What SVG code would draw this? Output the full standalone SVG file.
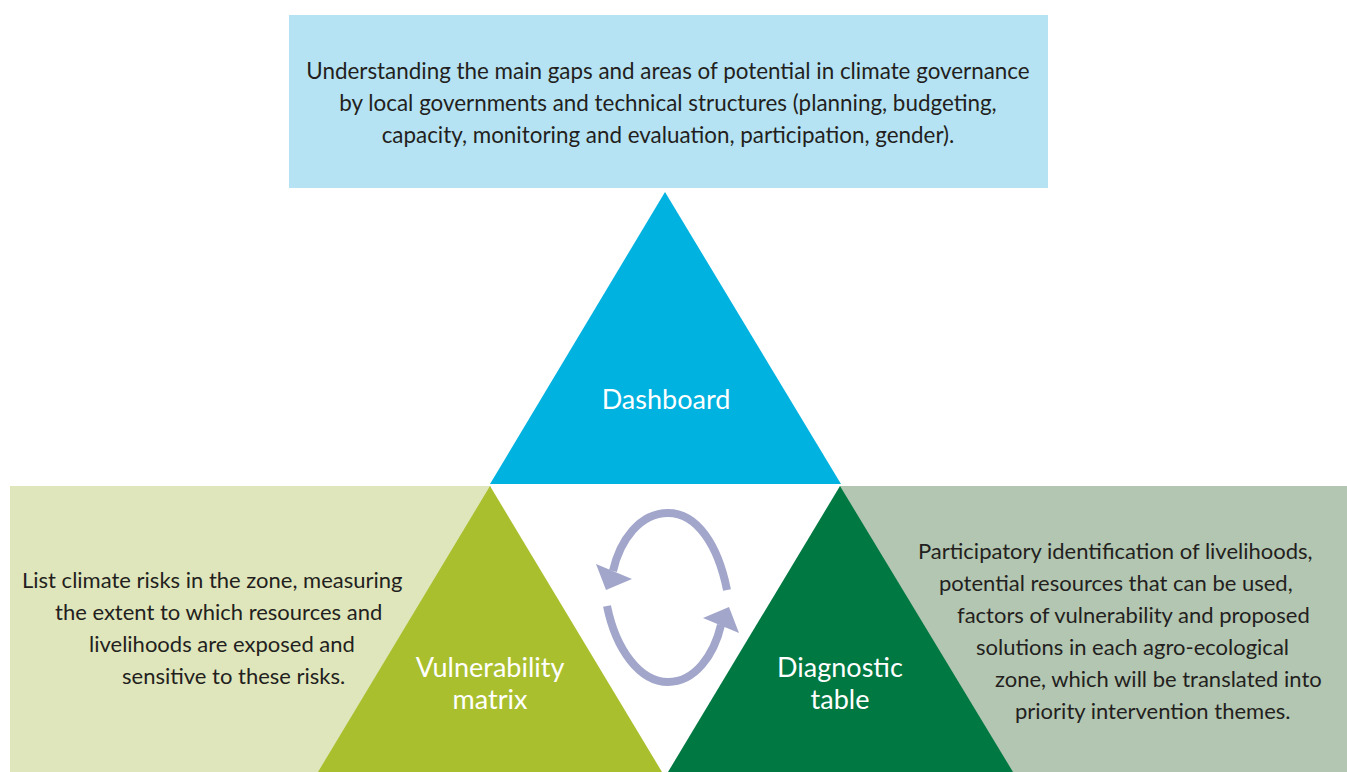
<svg xmlns="http://www.w3.org/2000/svg" width="1347" height="772" viewBox="0 0 1347 772">
<style>
.t{font-family:Lato,"Noto Sans",sans-serif;font-size:22px;fill:#231f20}
.w{font-family:Lato,"Noto Sans",sans-serif;font-size:27px;fill:#ffffff;text-anchor:middle}
.arc{fill:none;stroke:#a2a6cb;stroke-width:8}
.head{fill:#a2a6cb}
</style>
<rect width="1347" height="772" fill="#ffffff"/>
<g id="governance-box">
<rect x="289" y="15" width="759" height="173" fill="#b5e3f3"/>
<text class="t" text-anchor="middle" style="font-size:22.4px"><tspan x="668" y="79">Understanding the main gaps and areas of potential in climate governance</tspan><tspan x="668" y="111">by local governments and technical structures (planning, budgeting,</tspan><tspan x="668" y="143">capacity, monitoring and evaluation, participation, gender).</tspan></text>
</g>
<g id="vulnerability-box">
<rect x="10" y="486" width="481" height="286" fill="#e0e6bb"/>
<text class="t"><tspan x="22" y="588">List climate risks in the zone, measuring</tspan><tspan x="55" y="620">the extent to which resources and</tspan><tspan x="89" y="652">livelihoods are exposed and</tspan><tspan x="122" y="684">sensitive to these risks.</tspan></text>
</g>
<g id="diagnostic-box">
<rect x="840" y="486" width="507" height="286" fill="#b3c6b1"/>
<text class="t"><tspan x="918" y="559">Participatory identification of livelihoods,</tspan><tspan x="939" y="591">potential resources that can be used,</tspan><tspan x="957" y="623">factors of vulnerability and proposed</tspan><tspan x="976" y="655">solutions in each agro-ecological</tspan><tspan x="995" y="687">zone, which will be translated into</tspan><tspan x="1015" y="719">priority intervention themes.</tspan></text>
</g>
<g id="dashboard">
<polygon points="665,192 841,484 490,484" fill="#00b2e0"/>
<text class="w" x="666" y="409">Dashboard</text>
</g>
<g id="vulnerability-matrix">
<polygon points="490,486 662,772 318,772" fill="#aabf2d"/>
<text class="w" x="490" y="677">Vulnerability</text>
<text class="w" x="490" y="709">matrix</text>
</g>
<g id="diagnostic-table">
<polygon points="840,486 1013,772 668,772" fill="#007841"/>
<text class="w" x="840" y="677">Diagnostic</text>
<text class="w" x="840" y="709">table</text>
</g>
<g id="connectors">
<path class="arc" d="M 727 590 C 718 545 697 513 668 513 C 640 513 620 540 613 571"/>
<polygon class="head" points="596,564 632,579 606,590"/>
<path class="arc" d="M 607 606 C 616 650 640 682 668 682 C 695 682 714 655 721 625"/>
<polygon class="head" points="739,633 703,618 729,607"/>
</g>
</svg>
